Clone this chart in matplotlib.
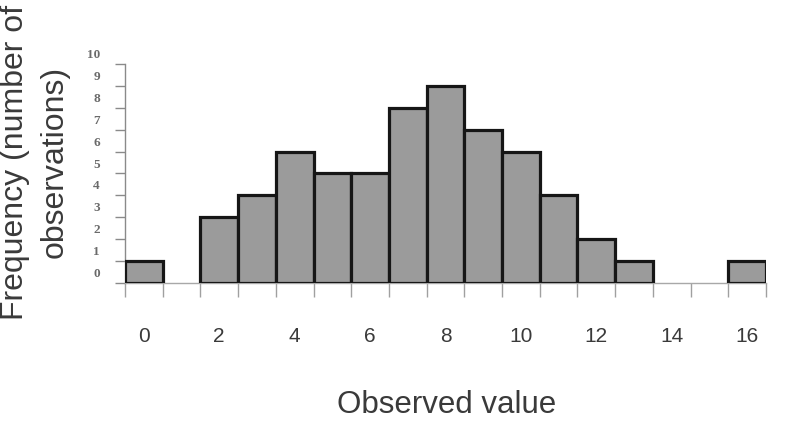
import matplotlib
matplotlib.use("Agg")
import matplotlib.pyplot as plt
import numpy as np
from matplotlib.transforms import ScaledTranslation

# observed values and how often each one occurred
values = np.arange(0, 17)
counts = np.array([1, 0, 3, 4, 6, 5, 5, 8, 9, 7, 6, 4, 2, 1, 0, 0, 1])
xtick_labels = [0, 2, 4, 6, 8, 10, 12, 14, 16]
ytick_values = list(range(0, 11))

plt.rcParams['font.family'] = ['Liberation Sans', 'DejaVu Sans']

fig = plt.figure(figsize=(7.85, 4.21), dpi=100)
ax = fig.add_axes([0.1592, 0.3278, 0.8166, 0.5202])

nz = counts > 0
ax.bar(values[nz], counts[nz], width=1.0, color='#9b9b9b',
       edgecolor='#161616', linewidth=2.3, zorder=3)

ax.set_xlim(-0.5, 16.5)
ax.set_ylim(0, 10)

for s in ['top', 'right']:
    ax.spines[s].set_visible(False)
ax.spines['left'].set_color('#8a8a8a')
ax.spines['left'].set_linewidth(1.0)
ax.spines['bottom'].set_color('#a8a8a8')
ax.spines['bottom'].set_linewidth(1.0)

# tick marks on bin edges, labels on even values
ax.set_xticks(np.arange(-0.5, 17, 1.0), minor=True)
ax.set_xticks(xtick_labels)
ax.set_xticklabels([str(v) for v in xtick_labels], fontsize=15, color='#3a3a3a')
ax.tick_params(axis='x', which='major', length=0, pad=32)
ax.tick_params(axis='x', which='minor', length=10, width=1.0, color='#a0a0a0',
               direction='out')

ax.set_yticks(ytick_values)
ax.set_yticklabels([str(v) for v in ytick_values], fontsize=9.5,
                   family='Liberation Serif', fontweight='bold', color='#6a6a6a')
ax.tick_params(axis='y', length=7, width=1.0, color='#8a8a8a', pad=11)
# labels sit about half a step above their tick
offset = ScaledTranslation(0, 7.5 / 72, fig.dpi_scale_trans)
for lab in ax.get_yticklabels():
    lab.set_transform(lab.get_transform() + offset)

fig.text(447 / 785, 1 - 405 / 421, 'Observed value', fontsize=22.5,
         color='#3a3a3a', ha='center', va='center')
fig.text(35 / 785, 1 - 162 / 421, 'Frequency (number of\nobservations)',
         fontsize=23, color='#3a3a3a', rotation=90, ha='center', va='center',
         multialignment='center', linespacing=1.4)

fig.savefig('out.png', dpi=100)
